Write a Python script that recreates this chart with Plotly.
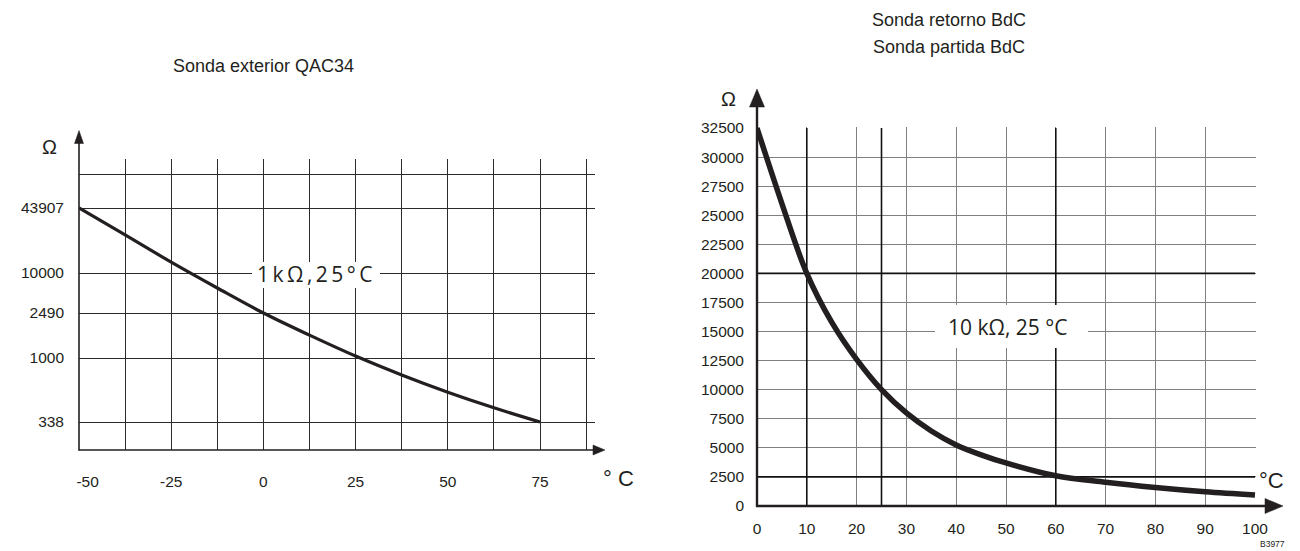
import numpy as np
import plotly.graph_objects as go

W, H = 1300, 551

# ---------------- data ----------------
# Left chart: Sonda exterior QAC34 (NTC 1 kOhm @ 25 C)
LEFT_TEMP = [-50, -37.5, -25, -12.5, 0, 12.5, 25, 37.5, 50, 62.5, 75]
LEFT_OHM = [43907, 23800, 12800, 5940, 2490, 1590, 1040, 750, 560, 430, 338]
LEFT_X_LABELS = [-50, -25, 0, 25, 50, 75]
LEFT_Y_TICKS = [338, 1000, 2490, 10000, 43907]

# Right chart: Sonda retorno / partida BdC (NTC 10 kOhm @ 25 C)
RIGHT_TEMP = [0, 5, 10, 15, 20, 25, 30, 35, 40, 45, 50, 60, 70, 80, 90, 100]
RIGHT_OHM = [32500, 26000, 20000, 15800, 12600, 10000, 8000, 6450, 5250, 4400,
             3700, 2600, 2050, 1600, 1230, 950]
RIGHT_X_TICKS = list(range(0, 101, 10))
RIGHT_Y_TICKS = list(range(0, 32501, 2500))
RIGHT_MARK_TEMP = [10, 25, 60]
RIGHT_MARK_OHM = [20000, 2500]

# ---------------- scales / layout constants ----------------
# the left chart uses the schematic's uneven resistance scale:
# each labelled value sits at a fixed position on the axis (log-interpolated between)
LEFT_SCALE_POS = [28, 92, 137, 177, 242]
LEFT_TOP_GRID = 276
LEFT_Y_RANGE = [0, 291]


def left_scale(r):
    return np.interp(np.log10(r), np.log10(LEFT_Y_TICKS), LEFT_SCALE_POS)


def px(x):
    return x / W


def py(y):
    return 1 - y / H


INK = "#231f20"
FONT = "Liberation Sans, Arial, sans-serif"
FONT2 = "Open Sans, Noto Sans, sans-serif"

fig = go.Figure()

fig.add_trace(go.Scatter(
    x=LEFT_TEMP, y=left_scale(LEFT_OHM), mode="lines",
    line=dict(color=INK, width=3.2, shape="spline", smoothing=1.0),
    xaxis="x", yaxis="y", hoverinfo="skip"))

fig.add_trace(go.Scatter(
    x=RIGHT_TEMP, y=RIGHT_OHM, mode="lines",
    line=dict(color=INK, width=5.5, shape="spline", smoothing=1.0),
    xaxis="x2", yaxis="y2", hoverinfo="skip"))

# left axes
lx_step = (540 - 79) / 125.0  # px per degree
left_x_range = [-50, -50 + (595 - 79) / lx_step]
left_grid_x = list(np.arange(-50, 87.5 + 0.01, 12.5))
left_tick_text = []
for v in left_grid_x:
    if any(abs(v - t) < 1e-9 for t in LEFT_X_LABELS):
        lab = str(int(v))
        if v == -50:
            lab = "\u00a0\u00a0\u00a0\u00a0" + lab
        left_tick_text.append(lab)
    else:
        left_tick_text.append("")

left_y_vals = list(LEFT_SCALE_POS) + [LEFT_TOP_GRID]
left_y_text = [str(v) for v in LEFT_Y_TICKS] + [""]

tickfont = dict(family=FONT, size=15.5, color=INK)

# right axes ranges padded by 1 px so that edge grid lines are visible
rx_range = [0, 100 * (1256 - 757) / (1255 - 757)]
ry_range = [0, 32500 * (506 - 127) / (506 - 128)]

common = dict(zeroline=False, showline=False, ticks="", fixedrange=True,
              automargin=False, tickfont=tickfont, showgrid=True, gridwidth=1)

fig.update_layout(
    width=W, height=H, autosize=False,
    margin=dict(l=0, r=0, t=0, b=0, pad=0),
    paper_bgcolor="white", plot_bgcolor="white",
    showlegend=False,
    xaxis=dict(domain=[px(79), px(595)], range=left_x_range, anchor="y",
               tickmode="array", tickvals=left_grid_x, ticktext=left_tick_text,
               gridcolor="#2b2b2b", ticklabelstandoff=20, **common),
    yaxis=dict(domain=[py(450), py(159)], range=LEFT_Y_RANGE, anchor="x",
               tickmode="array", tickvals=left_y_vals, ticktext=left_y_text,
               gridcolor="#2b2b2b", ticklabelstandoff=14, **common),
    xaxis2=dict(domain=[px(757), px(1256)], range=rx_range, anchor="y2",
                tickmode="array", tickvals=RIGHT_X_TICKS,
                ticktext=[str(v) for v in RIGHT_X_TICKS],
                gridcolor="#808080", ticklabelstandoff=11, **common),
    yaxis2=dict(domain=[py(506), py(127)], range=ry_range, anchor="x2",
                tickmode="array", tickvals=RIGHT_Y_TICKS,
                ticktext=[str(v) for v in RIGHT_Y_TICKS],
                gridcolor="#808080", ticklabelstandoff=12, **common),
)

shapes = []

# right chart: emphasised reference lines
for t in RIGHT_MARK_TEMP:
    shapes.append(dict(type="line", xref="x2", yref="y2", x0=t, x1=t, y0=0, y1=32500,
                       line=dict(color="#111111", width=1.6), layer="between"))
for r in RIGHT_MARK_OHM:
    shapes.append(dict(type="line", xref="x2", yref="y2", x0=0, x1=100, y0=r, y1=r,
                       line=dict(color="#111111", width=1.6), layer="between"))


def box(x0, y0, x1, y1):
    # white label background that interrupts the grid
    shapes.append(dict(type="rect", xref="paper", yref="paper",
                       x0=px(x0), y0=py(y1), x1=px(x1), y1=py(y0),
                       fillcolor="white", line=dict(width=0), layer="above"))


def seg(x0, y0, x1, y1, w, color=INK):
    shapes.append(dict(type="line", xref="paper", yref="paper",
                       x0=px(x0), y0=py(y0), x1=px(x1), y1=py(y1),
                       line=dict(color=color, width=w), layer="above"))


def tri(pts, color=INK):
    path = "M " + " L ".join(f"{px(a)},{py(b)}" for a, b in pts) + " Z"
    shapes.append(dict(type="path", xref="paper", yref="paper", path=path,
                       fillcolor=color, line=dict(color=color, width=0.5), layer="above"))


box(252, 262, 380, 288)
box(935, 305, 1088, 348)

# left axes with arrows
seg(79, 450.5, 79, 142, 1.6)
tri([(79, 130.5), (74.5, 143.5), (83.5, 143.5)])
seg(78.5, 450, 594, 450, 1.6)
tri([(605, 450), (593, 445), (593, 455)])

# right axes with arrows
seg(757, 507, 757, 105, 2.4)
tri([(757, 89), (749.5, 107), (764.5, 107)])
seg(756, 506, 1266, 506, 2.4)
tri([(1283, 506), (1265, 498.5), (1265, 513.5)])

fig.update_layout(shapes=shapes)

ann = []


def text(x, y, s, size, family=FONT, **kw):
    d = dict(x=px(x), y=py(y), xref="paper", yref="paper", text=s, showarrow=False,
             xanchor="center", yanchor="middle",
             font=dict(family=family, size=size, color=INK))
    d.update(kw)
    ann.append(d)


text(263, 66, "Sonda exterior QAC34", 18)
text(949, 20, "Sonda retorno BdC", 18)
text(949, 47, "Sonda partida BdC", 18)
text(49, 147, "Ω", 20)
text(728, 99, "Ω", 20)
text(618, 478, "° C", 22)
text(1271, 480, "°C", 22)
text(1272, 544, "B3977", 8.5)

ts = "\u2009"
text(314.5, 274, ts.join("1kΩ,25°C"), 21, family=FONT2)
text(1007.5, 326.5, "10 kΩ, 25 °C", 21, family=FONT2)

fig.update_layout(annotations=ann)

fig.write_html("out.html", config={"displayModeBar": False},
               post_script="document.body.style.margin='0';")
